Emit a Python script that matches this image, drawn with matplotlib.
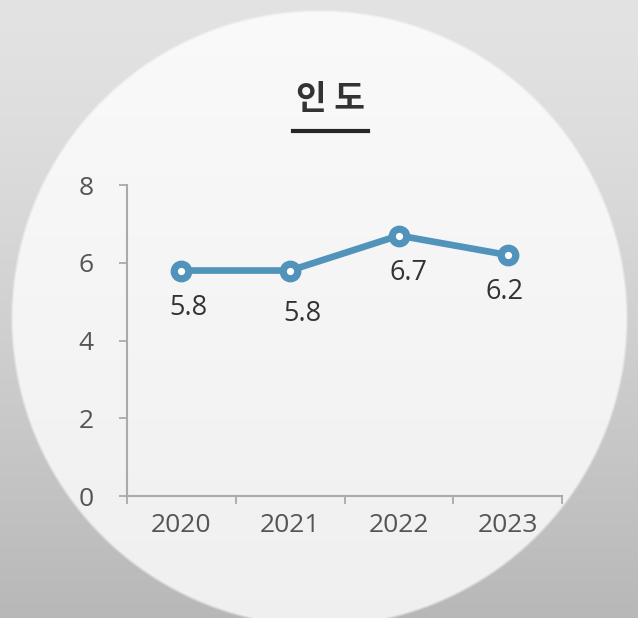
import numpy as np
import matplotlib
matplotlib.use("Agg")
import matplotlib.pyplot as plt
from matplotlib.lines import Line2D

plt.rcParams["font.family"] = ["Open Sans", "Noto Sans CJK KR", "DejaVu Sans"]

# 인도 연도별 값
title = "인 도"
years = ["2020", "2021", "2022", "2023"]
values = [5.8, 5.8, 6.7, 6.2]
value_labels = ["5.8", "5.8", "6.7", "6.2"]
y_ticks = [0, 2, 4, 6, 8]

W, H = 638, 618
fig = plt.figure(figsize=(W / 100, H / 100), dpi=100)

# 배경: 회색 그라데이션 위에 밝은 원
bg = fig.add_axes([0, 0, 1, 1])
yy, xx = np.mgrid[0:H, 0:W]
gray = 0.89 - 0.17 * (yy / H) ** 1.3
cx, cy, r = 319, 318, 309
dist = np.sqrt((xx - cx) ** 2 + (yy - cy) ** 2)
inside = np.clip((r - dist) / 3.0, 0, 1)
disc = 0.98 - 0.04 * (yy / H)
shade = gray * (1 - inside) + disc * inside
img = np.dstack([shade, shade, shade])
bg.imshow(img, extent=[0, W, H, 0], aspect="auto")
bg.set_xlim(0, W)
bg.set_ylim(H, 0)
bg.axis("off")

# 제목과 밑줄
fig.text(330 / W, 1 - 99 / H, title, ha="center", va="center",
         fontsize=24, fontweight="bold", color="#333333",
         family=["Noto Sans CJK KR", "DejaVu Sans"])
fig.add_artist(Line2D([293 / W, 368 / W], [1 - 131 / H, 1 - 131 / H],
                      color="#262626", linewidth=3, transform=fig.transFigure))

ax = fig.add_axes([127 / W, 1 - 496 / H, (562 - 127) / W, (496 - 185) / H])
ax.patch.set_alpha(0)
x = np.arange(len(years))
ax.plot(x, values, color="#5193bb", linewidth=4.8, marker="o",
        markersize=10.5, markerfacecolor="white", markeredgecolor="#5193bb",
        markeredgewidth=5.2, solid_capstyle="round", zorder=3)

label_dx = [5, 9, 7, -2]
label_dy = [-27, -31, -27, -27]
for xi, v, txt, dx, dy in zip(x, values, value_labels, label_dx, label_dy):
    ax.annotate(txt, (xi, v), xytext=(dx, dy), textcoords="offset points",
                ha="center", va="center", fontsize=19.5, color="#333333")

ax.set_xlim(-0.5, len(years) - 0.5)
ax.set_ylim(0, 8)
ax.set_yticks(y_ticks)
ax.set_yticklabels([str(t) for t in y_ticks])
ax.set_xticks(x)
ax.set_xticklabels(years)
ax.set_xticks(np.arange(len(years) + 1) - 0.5, minor=True)
ax.tick_params(axis="x", which="major", length=0, pad=12, labelsize=19,
               labelcolor="#555555")
ax.tick_params(axis="x", which="minor", length=6, width=1.3, color="#aaaaaa",
               direction="out")
ax.tick_params(axis="y", length=6, width=1.3, color="#aaaaaa", pad=18,
               labelsize=19, labelcolor="#555555")
for side in ["top", "right"]:
    ax.spines[side].set_visible(False)
for side in ["left", "bottom"]:
    ax.spines[side].set_color("#aaaaaa")
    ax.spines[side].set_linewidth(1.5)

fig.savefig("out.png", dpi=100)
